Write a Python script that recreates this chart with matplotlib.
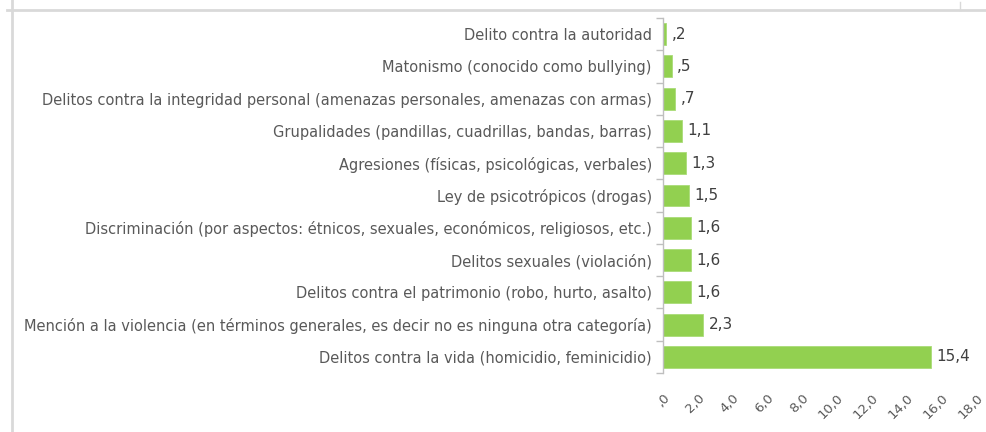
import matplotlib.pyplot as plt
from matplotlib.lines import Line2D
import numpy as np

plt.rcParams['font.family'] = ['DejaVu Sans']

categories = [
    "Delito contra la autoridad",
    "Matonismo (conocido como bullying)",
    "Delitos contra la integridad personal (amenazas personales, amenazas con armas)",
    "Grupalidades (pandillas, cuadrillas, bandas, barras)",
    "Agresiones (físicas, psicológicas, verbales)",
    "Ley de psicotrópicos (drogas)",
    "Discriminación (por aspectos: étnicos, sexuales, económicos, religiosos, etc.)",
    "Delitos sexuales (violación)",
    "Delitos contra el patrimonio (robo, hurto, asalto)",
    "Mención a la violencia (en términos generales, es decir no es ninguna otra categoría)",
    "Delitos contra la vida (homicidio, feminicidio)",
]
values = [0.2, 0.5, 0.7, 1.1, 1.3, 1.5, 1.6, 1.6, 1.6, 2.3, 15.4]
value_labels = [",2", ",5", ",7", "1,1", "1,3", "1,5", "1,6", "1,6", "1,6", "2,3", "15,4"]
xticks = [0, 2, 4, 6, 8, 10, 12, 14, 16, 18]
xtick_labels = [",0", "2,0", "4,0", "6,0", "8,0", "10,0", "12,0", "14,0", "16,0", "18,0"]

txt = '#595959'

fig = plt.figure(figsize=(9.87, 4.32), dpi=100)
ax = fig.add_axes([0.6717, 0.1366, 0.3173, 0.8217])

y = np.arange(len(categories))
bars = ax.barh(y, values, height=0.68, color='#92D050', edgecolor='#A9DC78', linewidth=0.6)
ax.bar_label(bars, labels=value_labels, padding=4, fontsize=11, color='#404040')

ax.set_ylim(len(categories) - 0.5, -0.5)
ax.set_xlim(0, 18)
ax.set_yticks(y)
ax.set_yticklabels(categories, fontsize=10.5, color=txt)
ax.set_yticks(np.arange(len(categories) + 1) - 0.5, minor=True)
ax.tick_params(axis='y', which='major', length=0, pad=8)
ax.tick_params(axis='y', which='minor', length=5, color='#BFBFBF', width=1)

ax.set_xticks(xticks)
ax.set_xticklabels(xtick_labels, fontsize=9.5, color=txt, rotation=45, ha='right', va='top',
                   rotation_mode='anchor')
ax.tick_params(axis='x', length=0, pad=13)

for s in ['top', 'right', 'bottom']:
    ax.spines[s].set_visible(False)
ax.spines['left'].set_color('#BFBFBF')
ax.spines['left'].set_linewidth(1)

# frame of the surrounding screenshot
fig.add_artist(Line2D([0.007, 1.0], [0.976, 0.976], color='#D9D9D9', lw=2))
fig.add_artist(Line2D([0.012, 0.012], [0.0, 1.0], color='#D9D9D9', lw=2))
fig.add_artist(Line2D([0.973, 0.973], [0.976, 0.995], color='#D9D9D9', lw=1))

fig.savefig('out.png', dpi=100)
